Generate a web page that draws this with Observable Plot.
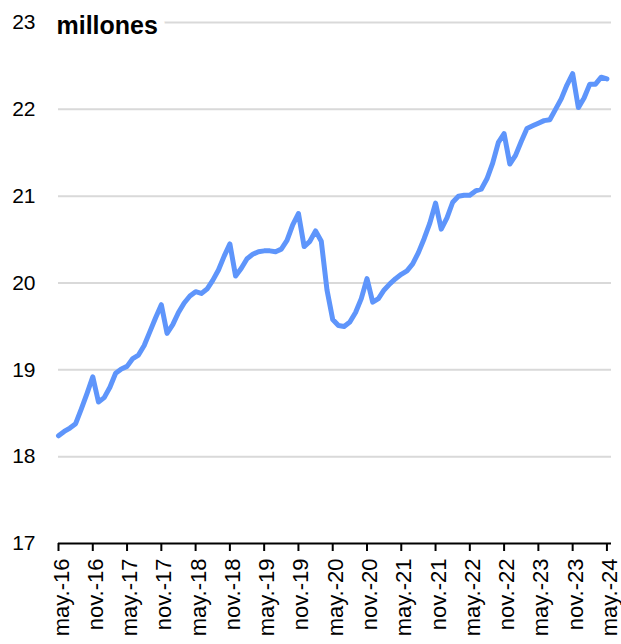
<!DOCTYPE html>
<html><head><meta charset="utf-8">
<script src="https://cdn.jsdelivr.net/npm/d3@7"></script>
<script src="https://cdn.jsdelivr.net/npm/@observablehq/plot@0.6"></script>
<style>body{margin:0;background:#fff}</style>
</head><body><div id="chart"></div>
<script>
const values = [
18.24,18.29,18.33,18.38,18.55,18.73,18.92,18.63,18.68,18.80,18.96,19.01,
19.04,19.13,19.17,19.28,19.44,19.60,19.75,19.42,19.52,19.66,19.77,19.85,
19.90,19.88,19.93,20.03,20.15,20.31,20.45,20.08,20.17,20.28,20.33,20.36,
20.37,20.37,20.36,20.39,20.49,20.67,20.80,20.42,20.48,20.60,20.48,19.92,
19.58,19.51,19.50,19.55,19.66,19.82,20.05,19.78,19.82,19.92,19.99,20.05,
20.10,20.14,20.22,20.35,20.51,20.69,20.92,20.62,20.75,20.93,21.00,21.01,
21.01,21.06,21.08,21.20,21.38,21.62,21.72,21.37,21.47,21.63,21.78,21.81,
21.84,21.87,21.88,22.00,22.12,22.28,22.41,22.02,22.13,22.29,22.29,22.37,
22.35];
const tickLabels = ["may.-16","nov.-16","may.-17","nov.-17","may.-18","nov.-18","may.-19","nov.-19","may.-20","nov.-20","may.-21","nov.-21","may.-22","nov.-22","may.-23","nov.-23","may.-24"];
const yTicks = [17,18,19,20,21,22,23];
const unitLabel = "millones";

const data = values.map((v, i) => ({i, v}));
const tickIdx = tickLabels.map((_, k) => k * 6);

const chart = Plot.plot({
  width: 621, height: 644,
  marginLeft: 58, marginRight: 10, marginTop: 22, marginBottom: 101,
  style: {fontFamily: "'Liberation Sans', Arial, sans-serif", fontSize: "21px", color: "#000", background: "#fff"},
  x: {type: "linear", domain: [0, 96.8]},
  y: {domain: [17, 23]},
  marks: [
    Plot.ruleY(yTicks.slice(1), {stroke: "#d9d9d9", strokeWidth: 2}),
    Plot.text([unitLabel], {x: 0, y: 23, text: d => d, textAnchor: "start", dx: -2, dy: 3,
      fontWeight: "bold", fontSize: 25, fill: "#000", stroke: "#fff", strokeWidth: 16,
      paintOrder: "stroke", strokeLinejoin: "round"}),
    Plot.axisY({ticks: yTicks, tickFormat: d => String(d), tickSize: 0, tickPadding: 23, fontSize: 21, label: null}),
    Plot.ruleY([17], {stroke: "#000", strokeWidth: 2}),
    Plot.axisX({ticks: tickIdx, tickSize: 8, strokeWidth: 2, tickFormat: () => "", label: null}),
    Plot.axisX({ticks: tickIdx, tickFormat: d => tickLabels[d / 6], tickRotate: -90,
      tickSize: 0, tickPadding: 15, fontSize: 22, label: null, dx: 3}),
    Plot.line(data, {x: "i", y: "v", stroke: "#5e95fb", strokeWidth: 5, strokeLinejoin: "round"})
  ]
});
document.getElementById("chart").appendChild(chart);
</script>
</body></html>
